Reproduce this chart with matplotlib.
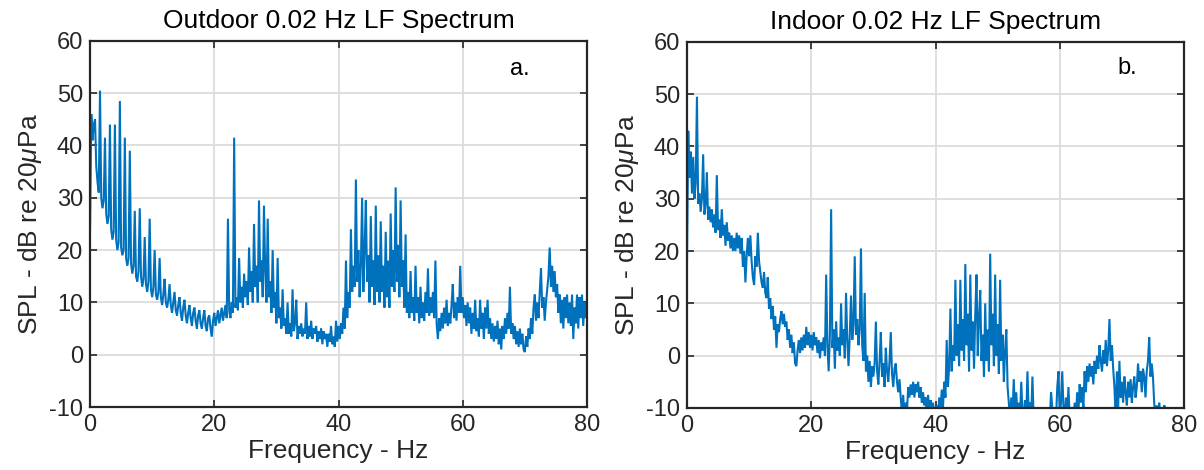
import matplotlib

matplotlib.use('Agg')
import matplotlib.pyplot as plt
import numpy as np

plt.rcParams['font.family'] = ['Liberation Sans', 'DejaVu Sans']
plt.rcParams['mathtext.fontset'] = 'custom'
plt.rcParams['mathtext.it'] = 'Liberation Sans:italic'
plt.rcParams['mathtext.rm'] = 'Liberation Sans'
plt.rcParams['axes.unicode_minus'] = False

# spectra, one value per 0.2 Hz bin (dB re 20 uPa)
bin_width = 0.2

outdoor_db = [
    24, 46, 41, 44, 45, 36, 33, 31, 50.5, 30, 28, 29.5, 41.5, 27, 25, 26.5, 44, 24, 22, 23.5,
    44, 22, 20, 21.5, 48.5, 20.5, 19, 20, 41.5, 18.5, 17, 18.5, 39, 17.5, 15.5, 17, 27.5, 15, 14, 16,
    28, 15, 13, 14.5, 22.5, 13.5, 12, 14, 26, 12.5, 11, 13, 20, 11.5, 10.5, 12, 18.5, 11, 9.5, 11.5,
    14.5, 10, 9, 10.5, 13.5, 9.5, 8, 10, 12, 8.5, 7.5, 9.5, 11, 8, 6.5, 9, 10.5, 7.5, 6, 8,
    9.5, 7, 5.5, 8, 9, 6.5, 5, 7.5, 8.5, 6, 5, 7, 8.5, 5.5, 4.5, 7, 7.5, 5, 3.5, 6.5,
    8, 5.5, 7, 8.5, 6, 7.5, 9, 6.5, 8, 9.5, 7, 26, 8.5, 7, 10, 8, 41.5, 9, 11, 8.5,
    18.5, 10, 13, 9, 15.5, 11, 14, 9.5, 20.5, 12, 16, 10, 25, 13, 17, 10, 29.5, 14, 18, 11,
    28.5, 16, 10, 26, 11, 14, 8, 20, 9, 12, 6, 18.5, 7, 9, 5, 12.5, 5.5, 7, 4, 10,
    4, 6, 3.5, 12.5, 4.5, 6, 10.5, 3, 5.5, 4, 6, 3.5, 5, 4, 10, 3, 5.5, 3.5, 6.5, 3,
    5, 4, 5.5, 2.5, 4.5, 3, 5, 2, 4.5, 3, 4, 1.5, 4, 2.5, 5.5, 2, 3.5, 1.5, 6.5, 2.5,
    5.5, 3, 6, 4, 9, 5, 18, 7, 12, 9, 24, 12, 17, 13, 33.5, 14, 20, 11, 17, 30,
    12, 20, 29.5, 14, 19, 10, 26.5, 13, 18, 9.5, 28.5, 12, 19, 10, 25.5, 12, 17, 9, 23.5, 11,
    18, 9, 27, 13, 20, 12, 32, 14, 21, 11, 29.5, 13, 18, 9, 23, 8, 12, 7, 16, 8,
    11, 6.5, 17, 8, 11, 6, 13, 7, 10, 6.5, 12, 8, 16.5, 7.5, 11, 8, 12, 7, 18, 6,
    3, 7, 4.5, 8, 5, 9, 6, 10.5, 5.5, 8, 6, 9.5, 13.5, 7, 10, 6.5, 11, 8, 17, 8,
    11, 7, 9.5, 5.5, 10, 6, 9, 4, 8, 5, 10.5, 4.5, 7, 3.5, 10.5, 5, 8, 3, 9, 5,
    10.5, 4, 7, 3, 6, 2.5, 5.5, 3, 6.5, 2, 5, 1, 5.5, 3, 7, 4, 8, 5, 13, 4,
    6, 3, 5.5, 2, 4.5, 1.5, 5, 2, 4, 1, 0.5, 3.5, 1.5, 5, 3, 7, 4, 9, 11.5, 6.5,
    10, 7, 12, 16.5, 9, 11, 6.5, 10, 12.5, 15, 20.5, 13, 17, 12, 16, 11, 13.5, 8, 11.5, 6,
    10.5, 5, 11, 7, 11.5, 6, 10, 5.5, 11.5, 3, 9, 6, 11.5, 5, 11, 7, 11.5, 5.5, 10, 7, 9,
]

indoor_db = [
    18, 43, 34, 39, 31, 38, 30, 33, 49.5, 29, 31, 27.5, 30, 38.5, 27, 29, 35, 26, 28.5, 25.5,
    28, 24.5, 27, 23.5, 34.5, 24, 26, 22.5, 28, 23, 25, 21, 25.5, 22, 23.5, 20.5, 23, 20, 22.5, 20,
    23.5, 20.5, 23, 19.5, 22.5, 17, 20, 14, 19, 22.5, 19, 23, 18, 15, 13.5, 19, 17, 23.5, 18, 16,
    14, 13, 16, 12, 11, 15, 9, 11, 7, 9.5, 5, 7.5, 1.5, 6, 4.5, 7, 8.5, 6, 8, 5.5,
    6.5, 3, 5, 1.5, 4, 0.5, 2.5, -1.5, -2, 1, 3, 0.5, 3.5, 1, 4, 1.5, 5.5, 2, 4.5, 1.5,
    4, 1, 4.5, 2, 3.5, 0.5, 3, -0.5, 2.5, 1, 3.5, 0, 15.5, 2, -3, 4, 28, 1.5, 5, -2.5,
    6.5, 1, 3.5, 0, 10, 2, 5, -0.5, 12, 3, -2, 4, 11.5, 3, 6, 19, 4, 7, 2, 5,
    20.5, 2, -1, 12, -3, 0, -5, -1, -6, -2, -4, -1.5, 6.5, -3, -5.5, -1, 4.5, -4, -1.5, -6,
    1.5, -3, -5, -1, 4.5, -3.5, -6, -2.5, -1.5, -5, -7, -4.5, -8, -11, -7.5, -12, -9, -11, -6, -8,
    -5.5, -7.5, -5, -8, -5.5, -7, -5, -8, -6, -9, -7, -9.5, -8, -11, -7.5, -10.5, -8.5, -12, -9, -11,
    -12, -9.5, -12, -8, -11, -6.5, -10, -5, -8, 3, -6, -2, 9, -3, 2, -1, 14.5, 0, 6, -2,
    14.5, 1, 7, -1, 17.5, 2, 8, -3, 15.5, 1, 6.5, -2.5, 8, 15.5, 0, 7, 12.5, -1, 4, -4,
    10, -1, 5, -3, 19.5, 2, 8, -2, 15.5, 0, 6, -3.5, 14.5, -1, 4, -5, 1, 5, -6, -9,
    -12, -8, -11, -4.5, -12, -7, -12, -9, -12, -5, -11, -12, -8.5, -12, -3, -11, -9, -12, -4, -12,
    -12, -12, -12, -12, -12, -12, -12, -12, -12, -12, -12, -11, -12, -7, -10, -12, -11, -12, -6, -3,
    -12, -9, -3, -10, -12, -8, -11, -6, -12, -12, -10, -12, -9, -12, -7, -11, -5.5, -9, -6, -10,
    -3, -7, -2, -5, -1.5, -4, -2, -5.5, -1, -3.5, 0, -2.5, 2, -1, -3, 1, -1.5, 3, -2, 1,
    7, -1, 2, -2.5, -6, -12, -3, -10, -1, -8, -5, -9, -4, -7, -9.5, -5, -8, -4.5, -9, -6,
    -4, -8, -6, -1.5, -5, -3, -7, -2.5, -4, -8, -3, -1, 3.5, -4, -1.5, -4, -9, -12, -9.5, -12,
    -9, -11, -10, -12, -9.5, -10,
]

titles = ['Outdoor 0.02 Hz LF Spectrum', 'Indoor 0.02 Hz LF Spectrum']
panel_tags = ['a.', 'b.']
x_ticks = [0, 20, 40, 60, 80]
y_ticks = [-10, 0, 10, 20, 30, 40, 50, 60]

line_color = '#0072BD'
axis_color = '#262626'

fig = plt.figure(figsize=(12.04, 4.70), dpi=100)
ax_l = fig.add_axes([0.0748, 0.134, 0.4127, 0.779])
ax_r = fig.add_axes([0.5706, 0.132, 0.4128, 0.779])

tag_pos = [(0.845, 0.922), (0.867, 0.929)]

for ax, spl, title, tag, tpos in zip(
    [ax_l, ax_r], [outdoor_db, indoor_db], titles, panel_tags, tag_pos
):
    freq = np.arange(len(spl)) * bin_width
    ax.plot(freq, spl, color=line_color, lw=1.5, solid_joinstyle='miter')
    ax.set_xlim(0, 80)
    ax.set_ylim(-10, 60)
    ax.set_xticks(x_ticks)
    ax.set_yticks(y_ticks)
    ax.grid(True, color='#dcdcdc', lw=1.3)
    ax.set_axisbelow(True)
    ax.tick_params(
        direction='in',
        top=True,
        right=True,
        length=5,
        width=1.2,
        colors=axis_color,
        labelsize=17,
        pad=5,
    )
    for sp in ax.spines.values():
        sp.set_color(axis_color)
        sp.set_linewidth(1.6)
    ax.set_title(title, fontsize=19, color='black', pad=9)
    ax.set_xlabel('Frequency - Hz', fontsize=19, color=axis_color, labelpad=2)
    ax.set_ylabel(r'SPL - dB re 20$\mu$Pa', fontsize=19, color=axis_color, labelpad=4)
    ax.text(
        tpos[0],
        tpos[1],
        tag,
        transform=ax.transAxes,
        fontsize=17,
        color='black',
        ha='left',
        va='center',
    )

fig.savefig('out.png', dpi=100, facecolor='white')
print('OK')
